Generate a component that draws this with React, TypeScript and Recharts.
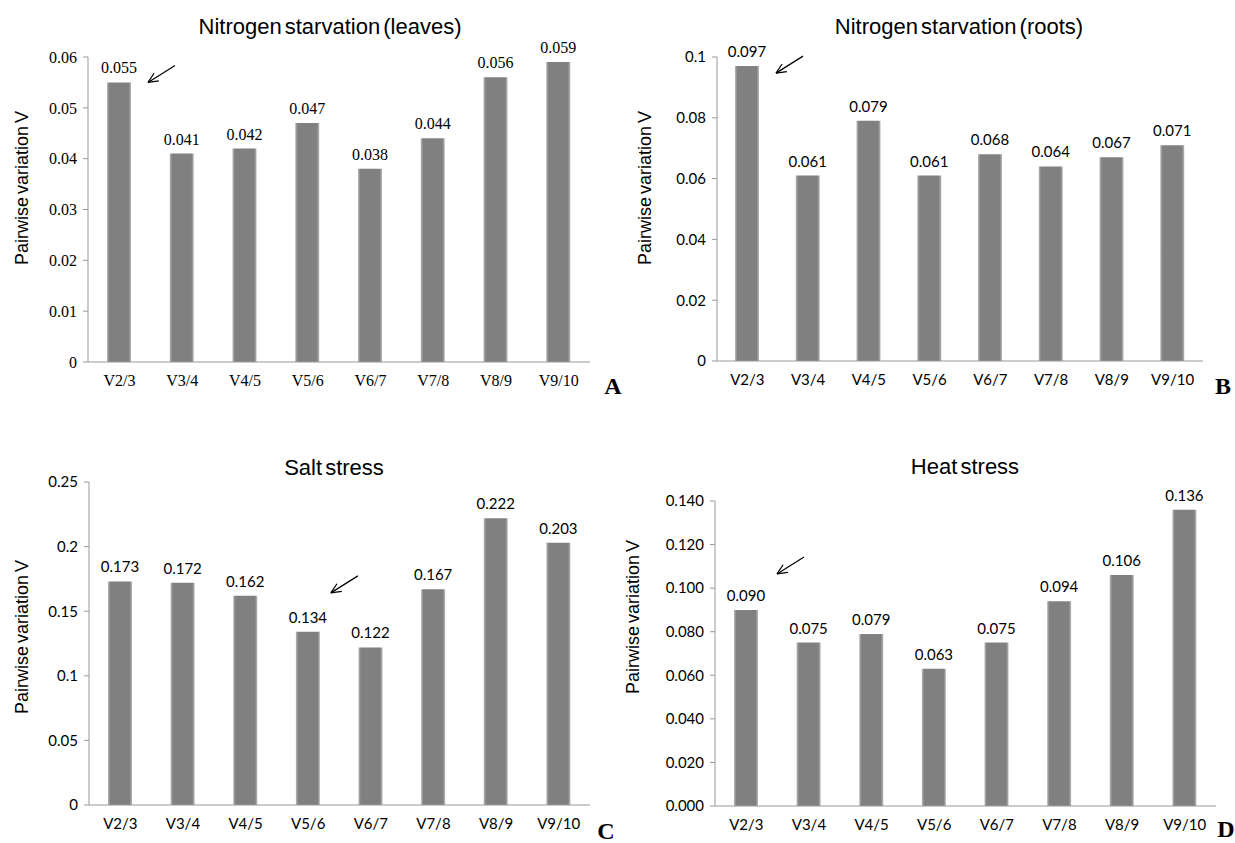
import { BarChart, Bar, XAxis, YAxis, LabelList } from "recharts"

const categories = ["V2/3", "V3/4", "V4/5", "V5/6", "V6/7", "V7/8", "V8/9", "V9/10"]

const leavesValues = [0.055, 0.041, 0.042, 0.047, 0.038, 0.044, 0.056, 0.059]
const rootsValues = [0.097, 0.061, 0.079, 0.061, 0.068, 0.064, 0.067, 0.071]
const saltValues = [0.173, 0.172, 0.162, 0.134, 0.122, 0.167, 0.222, 0.203]
const heatValues = [0.09, 0.075, 0.079, 0.063, 0.075, 0.094, 0.106, 0.136]

const leavesTicks = [0, 0.01, 0.02, 0.03, 0.04, 0.05, 0.06]
const rootsTicks = [0, 0.02, 0.04, 0.06, 0.08, 0.1]
const saltTicks = [0, 0.05, 0.1, 0.15, 0.2, 0.25]
const heatTicks = [0, 0.02, 0.04, 0.06, 0.08, 0.1, 0.12, 0.14]

const SERIF = "'Liberation Serif', 'Times New Roman', serif"
const SANS = "Lato, 'Noto Sans', sans-serif"
const ARIAL = "'Liberation Sans', Arial, sans-serif"

const YAXIS_W = 60
const XAXIS_H = 30

interface PanelProps {
  id: string
  left: number
  top: number
  width: number
  height: number
  plot: { x0: number; x1: number; y0: number; y1: number }
  values: number[]
  ticks: number[]
  tickFmt: (v: number) => string
  font: string
  fontSize: number
  title: string
  titleX: number
  titleY: number
  labelX: number
  labelY: number
  letter: string
  letterX: number
  letterY: number
  arrowIndex: number
  arrowDx: number
  arrowDy: number
}

function makeArrow(p: PanelProps) {
  return (props: any) => {
    if (props.index !== p.arrowIndex) return null
    const cx = Number(props.x) + Number(props.width) / 2
    const tipX = cx + p.arrowDx
    const tipY = Number(props.y) + p.arrowDy
    const tailX = tipX + 27
    const tailY = tipY - 17
    const ang = Math.atan2(tailY - tipY, tailX - tipX)
    const len = 11
    const a1 = ang + 0.42
    const a2 = ang - 0.42
    return (
      <g stroke="#000" strokeWidth={1.2} fill="none">
        <line x1={tailX} y1={tailY} x2={tipX} y2={tipY} />
        <line x1={tipX} y1={tipY} x2={tipX + len * Math.cos(a1)} y2={tipY + len * Math.sin(a1)} />
        <line x1={tipX} y1={tipY} x2={tipX + len * Math.cos(a2)} y2={tipY + len * Math.sin(a2)} />
      </g>
    )
  }
}

function Panel(p: PanelProps) {
  const data = categories.map((c, i) => ({ cat: c, v: p.values[i] }))
  const margin = {
    top: p.plot.y0 - p.top,
    left: p.plot.x0 - p.left - YAXIS_W,
    right: p.left + p.width - p.plot.x1,
    bottom: p.top + p.height - p.plot.y1 - XAXIS_H,
  }
  const max = p.ticks[p.ticks.length - 1]
  const gid = `grad-${p.id}`
  const textStyle = { fill: "#000", fontSize: p.fontSize, fontFamily: p.font }
  return (
    <>
      <div style={{ position: "absolute", left: p.left, top: p.top }}>
        <BarChart width={p.width} height={p.height} data={data} margin={margin}>
          <defs>
            <linearGradient id={gid} x1="0" y1="0" x2="1" y2="0">
              <stop offset="0%" stopColor="#b8b8b8" />
              <stop offset="10%" stopColor="#808080" />
              <stop offset="90%" stopColor="#808080" />
              <stop offset="100%" stopColor="#b8b8b8" />
            </linearGradient>
          </defs>
          <XAxis
            dataKey="cat"
            height={XAXIS_H}
            tickLine={false}
            tickSize={6}
            tickMargin={7}
            stroke="#999"
            tick={textStyle}
            interval={0}
          />
          <YAxis
            width={YAXIS_W}
            domain={[0, max]}
            ticks={p.ticks}
            tickFormatter={p.tickFmt}
            tickSize={5}
            tickMargin={6}
            stroke="#999"
            tick={textStyle}
            interval={0}
          />
          <Bar dataKey="v" fill={`url(#${gid})`} barSize={24} isAnimationActive={false}>
            <LabelList
              dataKey="v"
              position="top"
              offset={9}
              formatter={(v: any) => Number(v).toFixed(3)}
              style={textStyle}
            />
            <LabelList dataKey="v" content={makeArrow(p)} />
          </Bar>
        </BarChart>
      </div>
      <div
        style={{
          position: "absolute",
          left: p.titleX,
          top: p.titleY,
          transform: "translate(-50%, -50%)",
          fontFamily: ARIAL,
          fontSize: 22,
          wordSpacing: -3,
          whiteSpace: "nowrap",
          color: "#000",
        }}
      >
        {p.title}
      </div>
      <div
        style={{
          position: "absolute",
          left: p.labelX,
          top: p.labelY,
          transform: "translate(-50%, -50%) rotate(-90deg)",
          fontFamily: ARIAL,
          fontSize: 18,
          wordSpacing: -2,
          whiteSpace: "nowrap",
          color: "#000",
        }}
      >
        Pairwise variation V
      </div>
      <div
        style={{
          position: "absolute",
          left: p.letterX,
          top: p.letterY,
          transform: "translate(-50%, -50%)",
          fontFamily: SERIF,
          fontWeight: "bold",
          fontSize: 24,
          lineHeight: 1,
          color: "#000",
        }}
      >
        {p.letter}
      </div>
    </>
  )
}

const fmtPlain = (v: number) => (v === 0 ? "0" : String(Number(v.toFixed(3))))
const fmt3 = (v: number) => v.toFixed(3)

export default function App() {
  return (
    <div
      style={{
        position: "absolute",
        left: 0,
        top: 0,
        width: 1235,
        height: 843,
        overflow: "hidden",
        background: "#fff",
      }}
    >
      <Panel
        id="a"
        left={0}
        top={0}
        width={620}
        height={420}
        plot={{ x0: 88, x1: 590, y0: 57, y1: 362 }}
        values={leavesValues}
        ticks={leavesTicks}
        tickFmt={fmtPlain}
        font={SERIF}
        fontSize={16}
        title="Nitrogen starvation (leaves)"
        titleX={330}
        titleY={27}
        labelX={22}
        labelY={188}
        letter="A"
        letterX={613}
        letterY={386}
        arrowIndex={0}
        arrowDx={29}
        arrowDy={0}
      />
      <Panel
        id="b"
        left={620}
        top={0}
        width={615}
        height={420}
        plot={{ x0: 717, x1: 1203, y0: 57, y1: 361 }}
        values={rootsValues}
        ticks={rootsTicks}
        tickFmt={fmtPlain}
        font={SANS}
        fontSize={15}
        title="Nitrogen starvation (roots)"
        titleX={959}
        titleY={27}
        labelX={645}
        labelY={188}
        letter="B"
        letterX={1223}
        letterY={386}
        arrowIndex={0}
        arrowDx={29}
        arrowDy={7}
      />
      <Panel
        id="c"
        left={0}
        top={420}
        width={620}
        height={423}
        plot={{ x0: 89, x1: 590, y0: 482, y1: 805 }}
        values={saltValues}
        ticks={saltTicks}
        tickFmt={fmtPlain}
        font={SANS}
        fontSize={15}
        title="Salt stress"
        titleX={334}
        titleY={468}
        labelX={22}
        labelY={637}
        letter="C"
        letterX={606}
        letterY={831}
        arrowIndex={3}
        arrowDx={23}
        arrowDy={-39}
      />
      <Panel
        id="d"
        left={620}
        top={420}
        width={615}
        height={423}
        plot={{ x0: 715, x1: 1216, y0: 501, y1: 806 }}
        values={heatValues}
        ticks={heatTicks}
        tickFmt={fmt3}
        font={SANS}
        fontSize={15}
        title="Heat stress"
        titleX={965}
        titleY={467}
        labelX={633}
        labelY={617}
        letter="D"
        letterX={1226}
        letterY={829}
        arrowIndex={0}
        arrowDx={31}
        arrowDy={-36}
      />
    </div>
  )
}
